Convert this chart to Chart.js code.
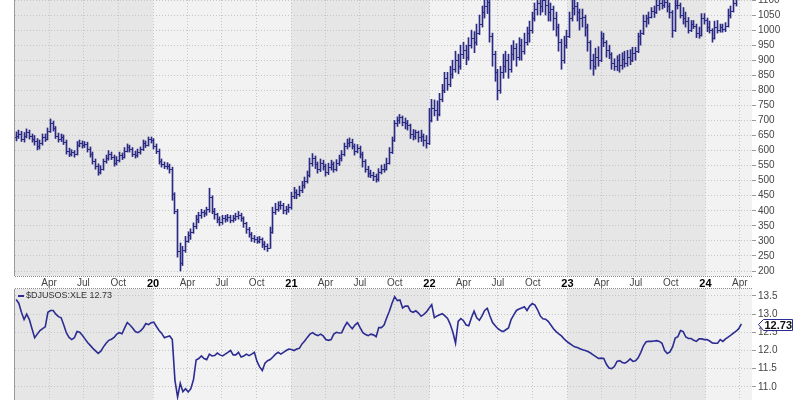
<!DOCTYPE html>
<html>
<head>
<meta charset="utf-8">
<script src="https://cdn.jsdelivr.net/npm/chart.js@4.4.1/dist/chart.umd.min.js"></script>
<style>
  body { margin: 0; background: #fff; }
  #top { position: absolute; left: 0; top: 0; }
  #bottom { position: absolute; left: 0; top: 288px; }
</style>
</head>
<body>
<canvas id="top" width="800" height="288"></canvas>
<canvas id="bottom" width="800" height="112"></canvas>
<script>
// weekly bars, first one is the week ending 2019-01-04
const firstWeek = "2019-01-04";

const opens = [
  645,650,655,640,650,660,648,640,632,615, 625,645,640,665,690,675,650,640,645,630,
  600,590,595,590,620,625,618,622,605,590, 565,550,530,540,565,575,590,580,560,570,
  585,580,600,612,605,590,585,595,605,625, 620,638,
  635,615,600,565,555,550,548,540,455,400, 265,225,270,300,318,330,350,372,385,395,
  392,405,445,400,388,372,362,375,372,378, 368,375,382,385,375,358,338,322,310,305,
  300,306,290,282,278,330,395,405,418,420, 402,405,412,450,462,455,
  470,485,500,520,560,575,555,540,560,548, 530,545,555,540,560,575,590,615,625,630,
  615,600,610,590,565,540,525,520,515,505, 530,540,540,560,595,635,690,700,710,695,
  690,685,655,648,660,645,650,635,
  625,700,740,735,720,770,800,840,820,855, 870,900,880,920,935,910,950,975,960,990,
  1020,1060,1080,1095,980,920,860,800,860,880, 900,870,920,940,910,950,930,960,990,1000,
  1040,1070,1090,1080,1100,1085,1060,1070,1040,1010, 960,900,
  950,980,1040,1075,1080,1060,1040,1045,1010,960, 900,880,910,900,975,960,935,920,890,880,
  900,885,905,890,910,900,925,930,980,990, 1030,1040,1045,1065,1060,1085,1090,1085,1095,1080,
  1060,1000,1085,1085,1050,1040,1030,1000,1020,1015, 990,985,1040,1035,1010,1000,975,1010,1000,1010,
  1005,1015,1050,1065,1090
];
const highs = [
  662,668,664,660,672,668,655,650,640,635, 655,655,675,705,698,680,658,655,652,635,
  608,603,600,630,635,632,630,628,612,595, 572,556,550,572,585,600,595,585,580,595,
  592,610,622,618,610,598,605,612,635,632, 645,645,
  640,622,605,572,562,560,555,545,460,405, 293,282,315,330,340,360,385,395,405,402,
  412,475,450,408,392,380,385,385,388,385, 385,392,398,392,380,362,345,328,318,313,
  315,310,298,290,346,412,425,430,432,425, 415,422,462,478,470,482,
  498,512,532,575,590,582,562,572,568,555, 558,568,562,570,585,600,625,638,642,638,
  622,620,615,595,570,548,535,528,522,540, 552,555,575,610,645,700,712,720,715,708,
  700,688,670,668,665,668,655,650,
  740,770,768,765,790,820,860,860,880,900, 930,920,950,960,950,975,1000,995,1020,1050,
  1080,1100,1120,1105,990,930,870,880,920,930, 920,950,965,955,975,970,990,1010,1030,1060,
  1090,1110,1112,1120,1115,1100,1090,1080,1060,1020, 970,980,
  1000,1060,1100,1105,1092,1070,1070,1050,1020,965, 920,940,945,995,990,965,950,925,905,915,
  920,925,930,933,935,943,943,990,1000,1050, 1050,1060,1075,1080,1100,1110,1105,1110,1100,1090,
  1065,1100,1105,1090,1075,1060,1042,1032,1032,1020, 1010,1055,1055,1040,1030,1005,1030,1032,1020,1020,
  1025,1070,1080,1110,1130
];
const lows = [
  632,640,630,628,642,638,628,618,602,605, 618,630,635,660,665,640,628,630,620,588,
  580,582,578,585,612,608,610,595,578,555, 538,518,522,535,558,568,570,548,552,562,
  570,575,595,595,580,575,578,588,600,610, 615,625,
  605,590,555,545,540,538,525,435,390,246, 200,218,262,295,305,325,340,360,375,380,
  385,395,390,372,360,350,355,362,365,360, 362,368,372,365,345,325,312,298,295,292,
  293,278,270,265,275,325,388,398,405,390, 388,395,405,440,440,448,
  460,475,492,512,548,540,525,530,535,515, 520,535,528,532,550,565,582,605,612,605,
  585,592,575,545,528,512,510,500,495,498, 522,528,535,555,590,630,680,690,682,672,
  668,640,635,638,628,630,615,608,
  620,695,715,700,715,762,792,800,812,840, 860,855,870,905,885,900,940,925,950,985,
  1010,1040,1055,960,880,830,768,790,840,860, 840,860,900,880,900,900,920,950,960,990,
  1030,1050,1050,1060,1050,1030,1030,1000,980,930, 870,890,
  940,975,1030,1050,1030,1000,1010,980,930,870, 850,870,880,895,945,910,905,870,866,865,
  860,870,877,880,885,895,900,925,950,985, 1010,1020,1040,1042,1055,1066,1070,1075,1060,1040,
  976,995,1070,1040,1020,1010,990,995,1005,975, 973,980,1020,995,990,960,970,990,993,993,
  995,1010,1040,1060,1080
];
const closes = [
  650,655,640,650,660,648,640,632,615,625, 645,640,665,690,675,650,640,645,630,600,
  590,595,590,620,625,618,622,605,590,565, 550,530,540,565,575,590,580,560,570,585,
  580,600,612,605,590,585,595,605,625,620, 638,635,
  615,600,565,555,550,548,540,455,400,265, 225,270,300,318,330,350,372,385,395,392,
  405,445,400,388,372,362,375,372,378,368, 375,382,385,375,358,338,322,310,305,300,
  306,290,282,278,330,395,405,418,420,402, 405,412,450,462,455,470,
  485,500,520,560,575,555,540,560,548,530, 545,555,540,560,575,590,615,625,630,615,
  600,610,590,565,540,525,520,515,505,530, 540,540,560,595,635,690,700,710,695,690,
  685,655,648,660,645,650,635,625,
  700,740,735,720,770,800,840,820,855,870, 900,880,920,935,910,950,975,960,990,1020,
  1060,1080,1095,980,920,860,800,860,880,900, 870,920,940,910,950,930,960,990,1000,1040,
  1070,1090,1080,1100,1085,1060,1070,1040,1010,960, 900,950,
  980,1040,1075,1080,1060,1040,1045,1010,960,900, 880,910,900,975,960,935,920,890,880,900,
  885,905,890,910,900,925,930,980,990,1030, 1040,1045,1065,1060,1085,1090,1085,1095,1080,1060,
  1000,1085,1085,1050,1040,1030,1000,1020,1015,990, 985,1040,1035,1010,1000,975,1010,1000,1010,1005,
  1015,1050,1065,1090,1110
];

// $DJUSOS:XLE ratio, same weeks (two more at the end)
const ratio = [
  13.40,13.30,13.05,12.85,13.00,12.85,12.60,12.35,12.45,12.55, 12.60,12.65,13.05,13.10,13.10,13.00,12.93,12.90,12.70,12.48,
  12.36,12.30,12.35,12.52,12.50,12.42,12.32,12.22,12.14,12.06, 11.99,11.92,11.98,12.10,12.20,12.28,12.31,12.36,12.45,12.49,
  12.46,12.62,12.77,12.70,12.62,12.52,12.49,12.54,12.62,12.74, 12.71,12.76,
  12.78,12.66,12.55,12.47,12.35,12.38,12.40,12.30,11.18,10.72, 11.10,10.87,10.95,10.86,10.95,11.20,11.74,11.78,11.85,11.78,
  11.75,11.90,11.85,11.86,11.93,11.88,11.85,11.90,11.95,12.00, 11.88,11.88,11.95,11.82,11.85,11.90,11.86,11.90,11.95,11.70,
  11.55,11.45,11.65,11.72,11.75,11.82,11.90,11.95,11.90,11.95, 12.00,12.04,12.03,12.00,12.04,12.06,
  12.18,12.26,12.36,12.45,12.49,12.44,12.41,12.45,12.40,12.30, 12.28,12.30,12.45,12.50,12.48,12.49,12.65,12.77,12.68,12.60,
  12.70,12.76,12.62,12.49,12.44,12.41,12.45,12.43,12.38,12.63, 12.63,12.70,12.90,13.08,13.30,13.48,13.37,13.39,13.17,13.22,
  13.22,13.08,13.05,13.09,13.03,12.94,12.99,13.06,
  13.16,13.26,12.90,12.95,12.98,13.01,12.95,12.88,12.72,12.50, 12.20,12.80,12.88,12.82,12.70,12.68,12.90,13.08,12.90,12.83,
  12.95,13.10,13.16,12.95,12.77,12.68,12.60,12.55,12.52,12.57, 12.62,12.85,12.98,13.10,13.14,13.17,13.20,13.10,13.22,13.29,
  13.25,13.12,12.95,12.87,12.86,12.80,12.70,12.60,12.52,12.46, 12.40,12.32,
  12.25,12.20,12.15,12.10,12.08,12.05,12.02,12.00,11.97,11.93, 11.88,11.83,11.78,11.79,11.78,11.62,11.52,11.50,11.56,11.70,
  11.72,11.67,11.65,11.70,11.77,11.70,11.72,11.80,11.95,12.13, 12.24,12.25,12.25,12.26,12.27,12.25,12.20,12.00,11.92,11.96,
  12.10,12.34,12.38,12.55,12.52,12.37,12.33,12.33,12.28,12.25, 12.32,12.32,12.30,12.30,12.26,12.21,12.20,12.20,12.30,12.25,
  12.32,12.37,12.42,12.48,12.53,12.60,12.73
];
const ratioLabel = "$DJUSOS:XLE";

const priceTicks = [200,250,300,350,400,450,500,550,600,650,700,750,800,850,900,950,1000,1050,1100];
const ratioTicks = [11.0,11.5,12.0,12.5,13.0,13.5];
const tickDates = ["2019-04-01","2019-07-01","2019-10-01","2020-01-01","2020-04-01","2020-07-01","2020-10-01",
  "2021-01-01","2021-04-01","2021-07-01","2021-10-01","2022-01-01","2022-04-01","2022-07-01","2022-10-01",
  "2023-01-01","2023-04-01","2023-07-01","2023-10-01","2024-01-01","2024-04-01"];
const tickLabels = ["Apr","Jul","Oct","20","Apr","Jul","Oct","21","Apr","Jul","Oct","22",
  "Apr","Jul","Oct","23","Apr","Jul","Oct","24","Apr"];
const shadedYears = [["2019-01-01","2020-01-01"],["2021-01-01","2022-01-01"],["2023-01-01","2024-01-01"]];
const xStart = "2019-01-01";
const xEnd = "2024-05-03";

const barColor = "#2a2a84";
const lineColor = "#2c2c92";
const gridColor = "#c6c6c6";
const font = "'Liberation Sans', Arial, sans-serif";

function dayOf(s) {
  const [y, m, d] = s.split("-").map(Number);
  return (Date.UTC(y, m - 1, d) - Date.UTC(2019, 0, 1)) / 86400000;
}
const week0 = dayOf(firstWeek);
const tickDays = tickDates.map(dayOf);
const isYear = i => (tickLabels[i] || "").length === 2;

//plot background with alternating year bands + left edge
const background = {
  id: "background",
  beforeDraw(chart) {
    const { ctx, chartArea: a, scales: { x } } = chart;
    ctx.save();
    ctx.fillStyle = "#f2f2f2";
    ctx.fillRect(a.left, a.top, a.right - a.left, a.bottom - a.top);
    ctx.fillStyle = "#e6e6e6";
    shadedYears.forEach(([s, e]) => {
      const x0 = x.getPixelForValue(dayOf(s));
      const x1 = x.getPixelForValue(dayOf(e));
      ctx.fillRect(x0, a.top, x1 - x0, a.bottom - a.top);
    });
    ctx.restore();
  },
  afterDraw(chart) {
    const { ctx, chartArea: a } = chart;
    ctx.save();
    ctx.strokeStyle = "#9a9a9a";
    ctx.lineWidth = 1;
    ctx.beginPath();
    ctx.moveTo(a.left - 0.5, a.top);
    ctx.lineTo(a.left - 0.5, a.bottom);
    ctx.stroke();
    ctx.setLineDash([1, 1]);
    ctx.strokeStyle = "#8a8a8a";
    ctx.beginPath();
    const y = chart.canvas.id === "top" ? a.bottom + 0.5 : a.top - 0.5;
    ctx.moveTo(a.left, y);
    ctx.lineTo(a.right, y);
    ctx.stroke();
    ctx.restore();
  }
};

//open / close ticks on the weekly bars, bars snapped to whole pixels
const ohlcTicks = {
  id: "ohlcTicks",
  beforeDatasetsDraw(chart) {
    chart.getDatasetMeta(0).data.forEach(b => { b.x = Math.round(b.x - 0.5) + 0.5; });
  },
  afterDatasetsDraw(chart) {
    const { ctx, chartArea: a, scales: { y } } = chart;
    const bars = chart.getDatasetMeta(0).data;
    ctx.save();
    ctx.beginPath();
    ctx.rect(a.left, a.top, a.right - a.left, a.bottom - a.top);
    ctx.clip();
    ctx.strokeStyle = barColor;
    ctx.lineWidth = 1;
    ctx.beginPath();
    bars.forEach((b, i) => {
      const yo = Math.round(y.getPixelForValue(opens[i])) + 0.5;
      const yc = Math.round(y.getPixelForValue(closes[i])) + 0.5;
      ctx.moveTo(b.x - 1.5, yo);
      ctx.lineTo(b.x - 0.5, yo);
      ctx.moveTo(b.x + 0.5, yc);
      ctx.lineTo(b.x + 1.5, yc);
    });
    ctx.stroke();
    ctx.restore();
  }
};

//legend text and last value tag of the ratio panel
const ratioTags = {
  id: "ratioTags",
  afterDraw(chart) {
    const { ctx, chartArea: a, scales: { y } } = chart;
    const last = ratio[ratio.length - 1];
    ctx.save();
    ctx.strokeStyle = lineColor;
    ctx.lineWidth = 2;
    ctx.beginPath();
    ctx.moveTo(a.left + 3, a.top + 7);
    ctx.lineTo(a.left + 9, a.top + 7);
    ctx.stroke();
    ctx.fillStyle = "#333";
    ctx.font = "9px " + font;
    ctx.textBaseline = "middle";
    ctx.fillText(ratioLabel + " " + last.toFixed(2), a.left + 11, a.top + 7);

    const yl = Math.round(y.getPixelForValue(last)) + 0.5;
    const x0 = a.right + 6.5;
    ctx.beginPath();
    ctx.moveTo(x0, yl);
    ctx.lineTo(x0 + 5, yl - 5);
    ctx.lineTo(x0 + 34, yl - 5);
    ctx.lineTo(x0 + 34, yl + 6);
    ctx.lineTo(x0 + 5, yl + 6);
    ctx.closePath();
    ctx.fillStyle = "#fff";
    ctx.fill();
    ctx.lineWidth = 1;
    ctx.stroke();
    ctx.fillStyle = "#111";
    ctx.font = "bold 11px " + font;
    ctx.fillText(last.toFixed(2), x0 + 6, yl + 1);
    ctx.restore();
  }
};

function xScale(showLabels) {
  return {
    type: "linear",
    offset: false,
    min: dayOf(xStart),
    max: dayOf(xEnd),
    afterBuildTicks: s => { s.ticks = tickDays.map(v => ({ value: v })); },
    afterFit: s => {
      s.height = showLabels ? 12 : 0;
      s.paddingLeft = 0;
      s.paddingRight = 0;
    },
    grid: { color: gridColor, drawTicks: false, offset: false },
    border: { display: false, dash: [1, 2] },
    ticks: {
      display: showLabels,
      autoSkip: false,
      maxRotation: 0,
      padding: 1,
      callback: (v, i) => tickLabels[i],
      color: c => (isYear(c.index) ? "#000" : "#444"),
      font: c => (isYear(c.index)
        ? { family: font, size: 11, weight: "bold" }
        : { family: font, size: 10 })
    }
  };
}

function yScale(min, max, ticks, fmt) {
  return {
    position: "right",
    min: min,
    max: max,
    afterBuildTicks: s => { s.ticks = ticks.map(v => ({ value: v })); },
    afterFit: s => {
      s.width = 48;
      s.paddingTop = 0;
      s.paddingBottom = 0;
    },
    grid: { color: gridColor, tickLength: 4, tickColor: "#999", tickBorderDash: [] },
    border: { display: false, dash: [1, 2] },
    ticks: {
      padding: 2,
      color: "#444",
      font: { family: font, size: 10 },
      callback: fmt
    }
  };
}

const common = {
  responsive: false,
  animation: false,
  events: [],
  plugins: { legend: { display: false }, tooltip: { enabled: false } }
};

new Chart(document.getElementById("top"), {
  type: "bar",
  data: {
    datasets: [{
      data: closes.map((c, i) => ({ x: week0 + 7 * i, y: [lows[i], highs[i]] })),
      backgroundColor: barColor,
      borderWidth: 0,
      barThickness: 1,
      grouped: false
    }]
  },
  options: {
    ...common,
    layout: { padding: { left: 15, right: 0, top: 0, bottom: 0 } },
    scales: {
      x: xScale(true),
      y: yScale(183.4, 1100, priceTicks, v => String(v))
    }
  },
  plugins: [background, ohlcTicks]
});

new Chart(document.getElementById("bottom"), {
  type: "line",
  data: {
    datasets: [{
      data: ratio.map((v, i) => ({ x: week0 + 7 * i, y: v })),
      borderColor: lineColor,
      borderWidth: 1.6,
      pointRadius: 0,
      tension: 0
    }]
  },
  options: {
    ...common,
    layout: { padding: { left: 15, right: 0, top: 1, bottom: 0 } },
    scales: {
      x: xScale(false),
      y: yScale(10.64, 13.69, ratioTicks, v => v.toFixed(1))
    }
  },
  plugins: [background, ratioTags]
});
</script>
</body>
</html>
